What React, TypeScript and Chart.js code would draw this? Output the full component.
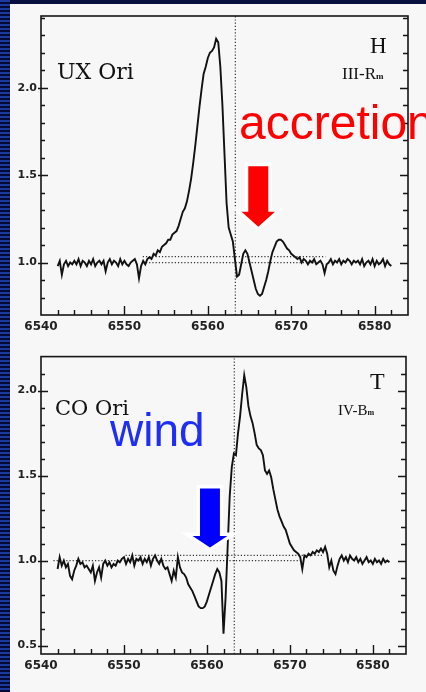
import React, { useEffect, useRef } from "react";
import { Chart, registerables } from "chart.js";

Chart.register(...registerables);

// wavelength grid of both spectra: 0.25 Å steps starting at 6542.00 Å
const waveStart = 6542.0;
const waveStep = 0.25;

// UX Ori, normalised H-alpha flux (8 values per 2 Å row)
const uxOriFlux = [
  0.98, 1.01, 0.93, 0.99, 1.01, 0.98, 1.00, 0.99, // 6542
  1.01, 0.99, 1.02, 0.98, 1.01, 1.00, 0.98, 1.01, // 6544
  0.99, 1.02, 0.98, 1.00, 1.01, 0.99, 1.01, 0.95, // 6546
  1.00, 1.02, 0.99, 1.01, 1.00, 0.98, 1.02, 0.99, // 6548
  1.01, 0.99, 0.98, 1.00, 1.01, 1.02, 0.99, 0.91, // 6550
  0.98, 1.01, 0.99, 1.02, 1.03, 1.02, 1.05, 1.04, // 6552
  1.07, 1.06, 1.09, 1.10, 1.11, 1.13, 1.13, 1.16, // 6554
  1.17, 1.18, 1.21, 1.25, 1.29, 1.31, 1.35, 1.41, // 6556
  1.48, 1.57, 1.67, 1.78, 1.89, 1.99, 2.08, 2.12, // 6558
  2.17, 2.20, 2.21, 2.23, 2.28, 2.26, 2.12, 1.90, // 6560
  1.62, 1.34, 1.20, 1.16, 1.12, 1.02, 0.92, 0.93, // 6562
  0.99, 1.05, 1.07, 1.05, 1.00, 0.95, 0.90, 0.85, // 6564
  0.82, 0.81, 0.82, 0.86, 0.90, 0.95, 1.01, 1.06, // 6566
  1.09, 1.12, 1.13, 1.13, 1.12, 1.10, 1.08, 1.07, // 6568
  1.05, 1.04, 1.03, 1.02, 1.03, 1.00, 1.02, 1.01, // 6570
  0.99, 1.01, 1.00, 1.02, 0.99, 1.00, 1.01, 0.99, // 6572
  0.94, 0.99, 1.00, 1.02, 0.99, 1.01, 1.00, 1.02, // 6574
  0.99, 1.01, 1.00, 1.02, 1.01, 0.99, 1.01, 1.00, // 6576
  1.01, 0.99, 1.02, 0.98, 1.00, 1.01, 0.99, 1.02, // 6578
  0.98, 1.01, 0.99, 1.00, 1.02, 0.98, 1.01, 0.99, // 6580
  0.98, // 6582
];

// CO Ori, normalised H-alpha flux (8 values per 2 Å row)
const coOriFlux = [
  0.95, 1.02, 0.97, 1.00, 0.96, 0.98, 0.91, 0.89, // 6542
  0.94, 0.97, 1.01, 0.98, 0.99, 0.96, 0.97, 0.95, // 6544
  0.93, 0.97, 0.88, 0.93, 0.96, 0.90, 0.98, 1.00, // 6546
  0.97, 0.99, 0.96, 0.98, 0.97, 1.00, 0.99, 1.01, // 6548
  1.02, 0.98, 1.01, 0.99, 1.03, 0.97, 1.01, 1.00, // 6550
  1.02, 0.98, 1.01, 0.99, 1.02, 0.97, 1.01, 1.03, // 6552
  1.00, 0.98, 1.01, 0.97, 0.95, 0.96, 0.92, 0.88, // 6554
  0.94, 0.90, 1.02, 0.96, 0.93, 0.92, 0.90, 0.86, // 6556
  0.84, 0.82, 0.79, 0.76, 0.73, 0.72, 0.72, 0.73, // 6558
  0.76, 0.80, 0.84, 0.88, 0.92, 0.95, 0.93, 0.88, // 6560
  0.57, 0.78, 1.08, 1.38, 1.55, 1.63, 1.62, 1.75, // 6562
  1.85, 1.98, 2.09, 2.02, 1.91, 1.85, 1.81, 1.75, // 6564
  1.68, 1.66, 1.65, 1.62, 1.53, 1.51, 1.53, 1.49, // 6566
  1.42, 1.36, 1.30, 1.26, 1.23, 1.20, 1.18, 1.14, // 6568
  1.10, 1.08, 1.06, 1.05, 1.04, 1.02, 0.95, 1.03, // 6570
  1.02, 1.04, 1.03, 1.05, 1.04, 1.06, 1.05, 1.07, // 6572
  1.05, 1.08, 1.04, 0.96, 1.00, 0.94, 0.92, 0.97, // 6574
  1.01, 1.03, 1.00, 1.02, 0.99, 1.03, 1.01, 1.00, // 6576
  1.02, 0.99, 1.01, 0.98, 1.00, 1.02, 0.99, 1.00, // 6578
  0.98, 1.01, 0.99, 1.00, 0.98, 1.01, 0.99, 1.00, // 6580
  0.99, // 6582
];

const xTickLabels = [6540, 6550, 6560, 6570, 6580];
const uxOriYTicks = [1.0, 1.5, 2.0];
const coOriYTicks = [0.5, 1.0, 1.5, 2.0];
const hAlphaRest = 6563.3;

// dotted continuum reference lines [level, from Å, to Å]
const uxOriRefLines = [
  [1.0, 6552.2, 6573.0],
  [1.034, 6552.2, 6574.1],
];
const coOriRefLines = [
  [1.0, 6541.5, 6571.5],
  [1.03, 6550.2, 6574.0],
];

type Arrow = { x: number; yTop: number; yHead: number; yTip: number; shaftHalf: number; headHalf: number; color: string };

const accretionArrow: Arrow = { x: 6566.05, yTop: 1.55, yHead: 1.29, yTip: 1.205, shaftHalf: 1.2, headHalf: 2.0, color: "#ff0000" };
const windArrow: Arrow = { x: 6560.37, yTop: 1.424, yHead: 1.145, yTip: 1.076, shaftHalf: 1.2, headHalf: 2.1, color: "#0000ff" };

type Panel = {
  flux: number[];
  yMin: number;
  yMax: number;
  yTicks: number[];
  refLines: number[][];
  arrow: Arrow;
  padTop: number;
  padRight: number;
  xAxisHeight: number;
};

const X_MIN = 6540;
const X_MAX = 6584;

const framePlugin = (p: Panel) => ({
  id: "frame",
  afterDraw(chart: any) {
    const { ctx, chartArea: a } = chart;
    const x = chart.scales.x;
    const y = chart.scales.y;
    ctx.save();
    ctx.setLineDash([]);
    ctx.globalAlpha = 1;
    ctx.strokeStyle = "#151515";
    ctx.lineWidth = 1.6;
    ctx.strokeRect(a.left, a.top, a.right - a.left, a.bottom - a.top);
    ctx.lineWidth = 1.4;
    ctx.beginPath();
    for (let w = X_MIN + 2; w < X_MAX; w += 2) {
      const px = Math.round(x.getPixelForValue(w)) + 0.5;
      const len = w % 10 === 0 ? 9 : 5;
      ctx.moveTo(px, a.bottom);
      ctx.lineTo(px, a.bottom - len);
    }
    for (let k = Math.ceil(p.yMin * 10 + 0.01); k <= Math.floor(p.yMax * 10 - 0.01); k++) {
      const py = Math.round(y.getPixelForValue(k / 10)) + 0.5;
      const major = k % 5 === 0;
      ctx.moveTo(a.left - (major ? 3 : 0), py);
      ctx.lineTo(a.left + (major ? 7 : 4), py);
      ctx.moveTo(a.right, py);
      ctx.lineTo(a.right - (major ? 8 : 5), py);
    }
    ctx.stroke();

    const ar = p.arrow;
    const cx = x.getPixelForValue(ar.x);
    const sh = x.getPixelForValue(ar.x + ar.shaftHalf) - cx;
    const hh = x.getPixelForValue(ar.x + ar.headHalf) - cx;
    const yT = y.getPixelForValue(ar.yTop);
    const yH = y.getPixelForValue(ar.yHead);
    const yTip = y.getPixelForValue(ar.yTip);
    ctx.beginPath();
    ctx.moveTo(cx - sh, yT);
    ctx.lineTo(cx + sh, yT);
    ctx.lineTo(cx + sh, yH);
    ctx.lineTo(cx + hh, yH);
    ctx.lineTo(cx, yTip);
    ctx.lineTo(cx - hh, yH);
    ctx.lineTo(cx - sh, yH);
    ctx.closePath();
    ctx.lineJoin = "miter";
    ctx.miterLimit = 4;
    ctx.strokeStyle = "#ffffff";
    ctx.lineWidth = 7;
    ctx.stroke();
    ctx.fillStyle = ar.color;
    ctx.fill();
    ctx.restore();
  },
});

function makeChart(canvas: HTMLCanvasElement, p: Panel) {
  const spectrum = p.flux.map((v, i) => ({ x: waveStart + i * waveStep, y: v }));
  const dotted = { borderColor: "#333", borderWidth: 1.2, borderDash: [1.2, 2], pointRadius: 0, fill: false };
  const datasets: any[] = [
    { data: spectrum, borderColor: "#111", borderWidth: 1.9, pointRadius: 0, tension: 0, fill: false },
    ...p.refLines.map((r) => ({ ...dotted, data: [{ x: r[1], y: r[0] }, { x: r[2], y: r[0] }] })),
    { ...dotted, data: [{ x: hAlphaRest, y: p.yMin }, { x: hAlphaRest, y: p.yMax }] },
  ];
  return new Chart(canvas, {
    type: "line",
    data: { datasets },
    options: {
      animation: false,
      responsive: false,
      layout: { padding: { top: p.padTop, right: p.padRight, left: 0, bottom: 0 } },
      plugins: { legend: { display: false }, tooltip: { enabled: false } },
      scales: {
        x: {
          type: "linear",
          min: X_MIN,
          max: X_MAX,
          grid: { display: false, drawTicks: false },
          border: { display: false },
          afterBuildTicks: (s: any) => {
            s.ticks = xTickLabels.map((v) => ({ value: v }));
          },
          afterFit: (s: any) => {
            s.height = p.xAxisHeight;
          },
          ticks: {
            color: "#222",
            font: { family: "DejaVu Sans", weight: "bold", size: 12 },
            padding: 5,
            maxRotation: 0,
            autoSkip: false,
            callback: (v: any) => String(v),
          },
        },
        y: {
          type: "linear",
          min: p.yMin,
          max: p.yMax,
          grid: { display: false, drawTicks: false },
          border: { display: false },
          afterBuildTicks: (s: any) => {
            s.ticks = p.yTicks.map((v) => ({ value: v }));
          },
          afterFit: (s: any) => {
            s.width = 41;
          },
          ticks: {
            color: "#222",
            font: { family: "DejaVu Sans", weight: "bold", size: 11 },
            padding: 4,
            callback: (v: any) => Number(v).toFixed(1),
          },
        },
      },
    } as any,
    plugins: [framePlugin(p)],
  });
}

const topPanel: Panel = {
  flux: uxOriFlux,
  yMin: 0.7,
  yMax: 2.41,
  yTicks: uxOriYTicks,
  refLines: uxOriRefLines,
  arrow: accretionArrow,
  padTop: 16,
  padRight: 18,
  xAxisHeight: 31,
};

const bottomPanel: Panel = {
  flux: coOriFlux,
  yMin: 0.45,
  yMax: 2.2,
  yTicks: coOriYTicks,
  refLines: coOriRefLines,
  arrow: windArrow,
  padTop: 7,
  padRight: 20,
  xAxisHeight: 38,
};

function abs(left: number, top: number, extra: React.CSSProperties = {}): React.CSSProperties {
  return { position: "absolute", left, top, lineHeight: 1, whiteSpace: "pre", margin: 0, ...extra };
}

export default function App() {
  const topRef = useRef<HTMLCanvasElement>(null);
  const botRef = useRef<HTMLCanvasElement>(null);

  useEffect(() => {
    const c1 = makeChart(topRef.current!, topPanel);
    const c2 = makeChart(botRef.current!, bottomPanel);
    return () => {
      c1.destroy();
      c2.destroy();
    };
  }, []);

  const serif = "'Liberation Serif', 'DejaVu Serif', serif";
  const dserif = "'DejaVu Serif', serif";
  const sans = "'Liberation Sans', Arial, sans-serif";

  return (
    <div style={{ position: "absolute", left: 0, top: 0, width: 426, height: 692, overflow: "hidden", background: "#07103f" }}>
      <div
        style={{
          position: "absolute",
          left: 0,
          top: 0,
          width: 10,
          height: 692,
          background: "repeating-linear-gradient(to bottom, #1a3aa0 0px, #1a3aa0 2px, #030a35 2px, #030a35 4px)",
        }}
      />
      <div style={{ position: "absolute", left: 10, top: 4, width: 416, height: 688, background: "#f7f7f7" }} />
      <canvas ref={topRef} width={426} height={346} style={{ position: "absolute", left: 0, top: 0, width: 426, height: 346 }} />
      <canvas ref={botRef} width={426} height={346} style={{ position: "absolute", left: 0, top: 346, width: 426, height: 346 }} />

      <div style={abs(57, 61, { fontFamily: dserif, fontSize: 22, color: "#111" })}>UX Ori</div>
      <div style={abs(370, 34, { fontFamily: serif, fontSize: 23, color: "#111" })}>H</div>
      <div style={abs(342, 65, { fontFamily: serif, fontSize: 17, color: "#111" })}>
        III-R<span style={{ fontSize: 9, fontWeight: "bold" }}>m</span>
      </div>
      <div style={abs(239, 99, { fontFamily: sans, fontSize: 48, color: "#ff0000" })}>accretion</div>

      <div style={abs(55, 398, { fontFamily: dserif, fontSize: 21, color: "#111" })}>CO Ori</div>
      <div style={abs(370, 369, { fontFamily: serif, fontSize: 24, color: "#111" })}>T</div>
      <div style={abs(338, 403, { fontFamily: serif, fontSize: 15, color: "#111" })}>
        IV-B<span style={{ fontSize: 8, fontWeight: "bold" }}>m</span>
      </div>
      <div style={abs(110, 407, { fontFamily: sans, fontSize: 46, color: "#1e2ef5" })}>wind</div>
    </div>
  );
}
